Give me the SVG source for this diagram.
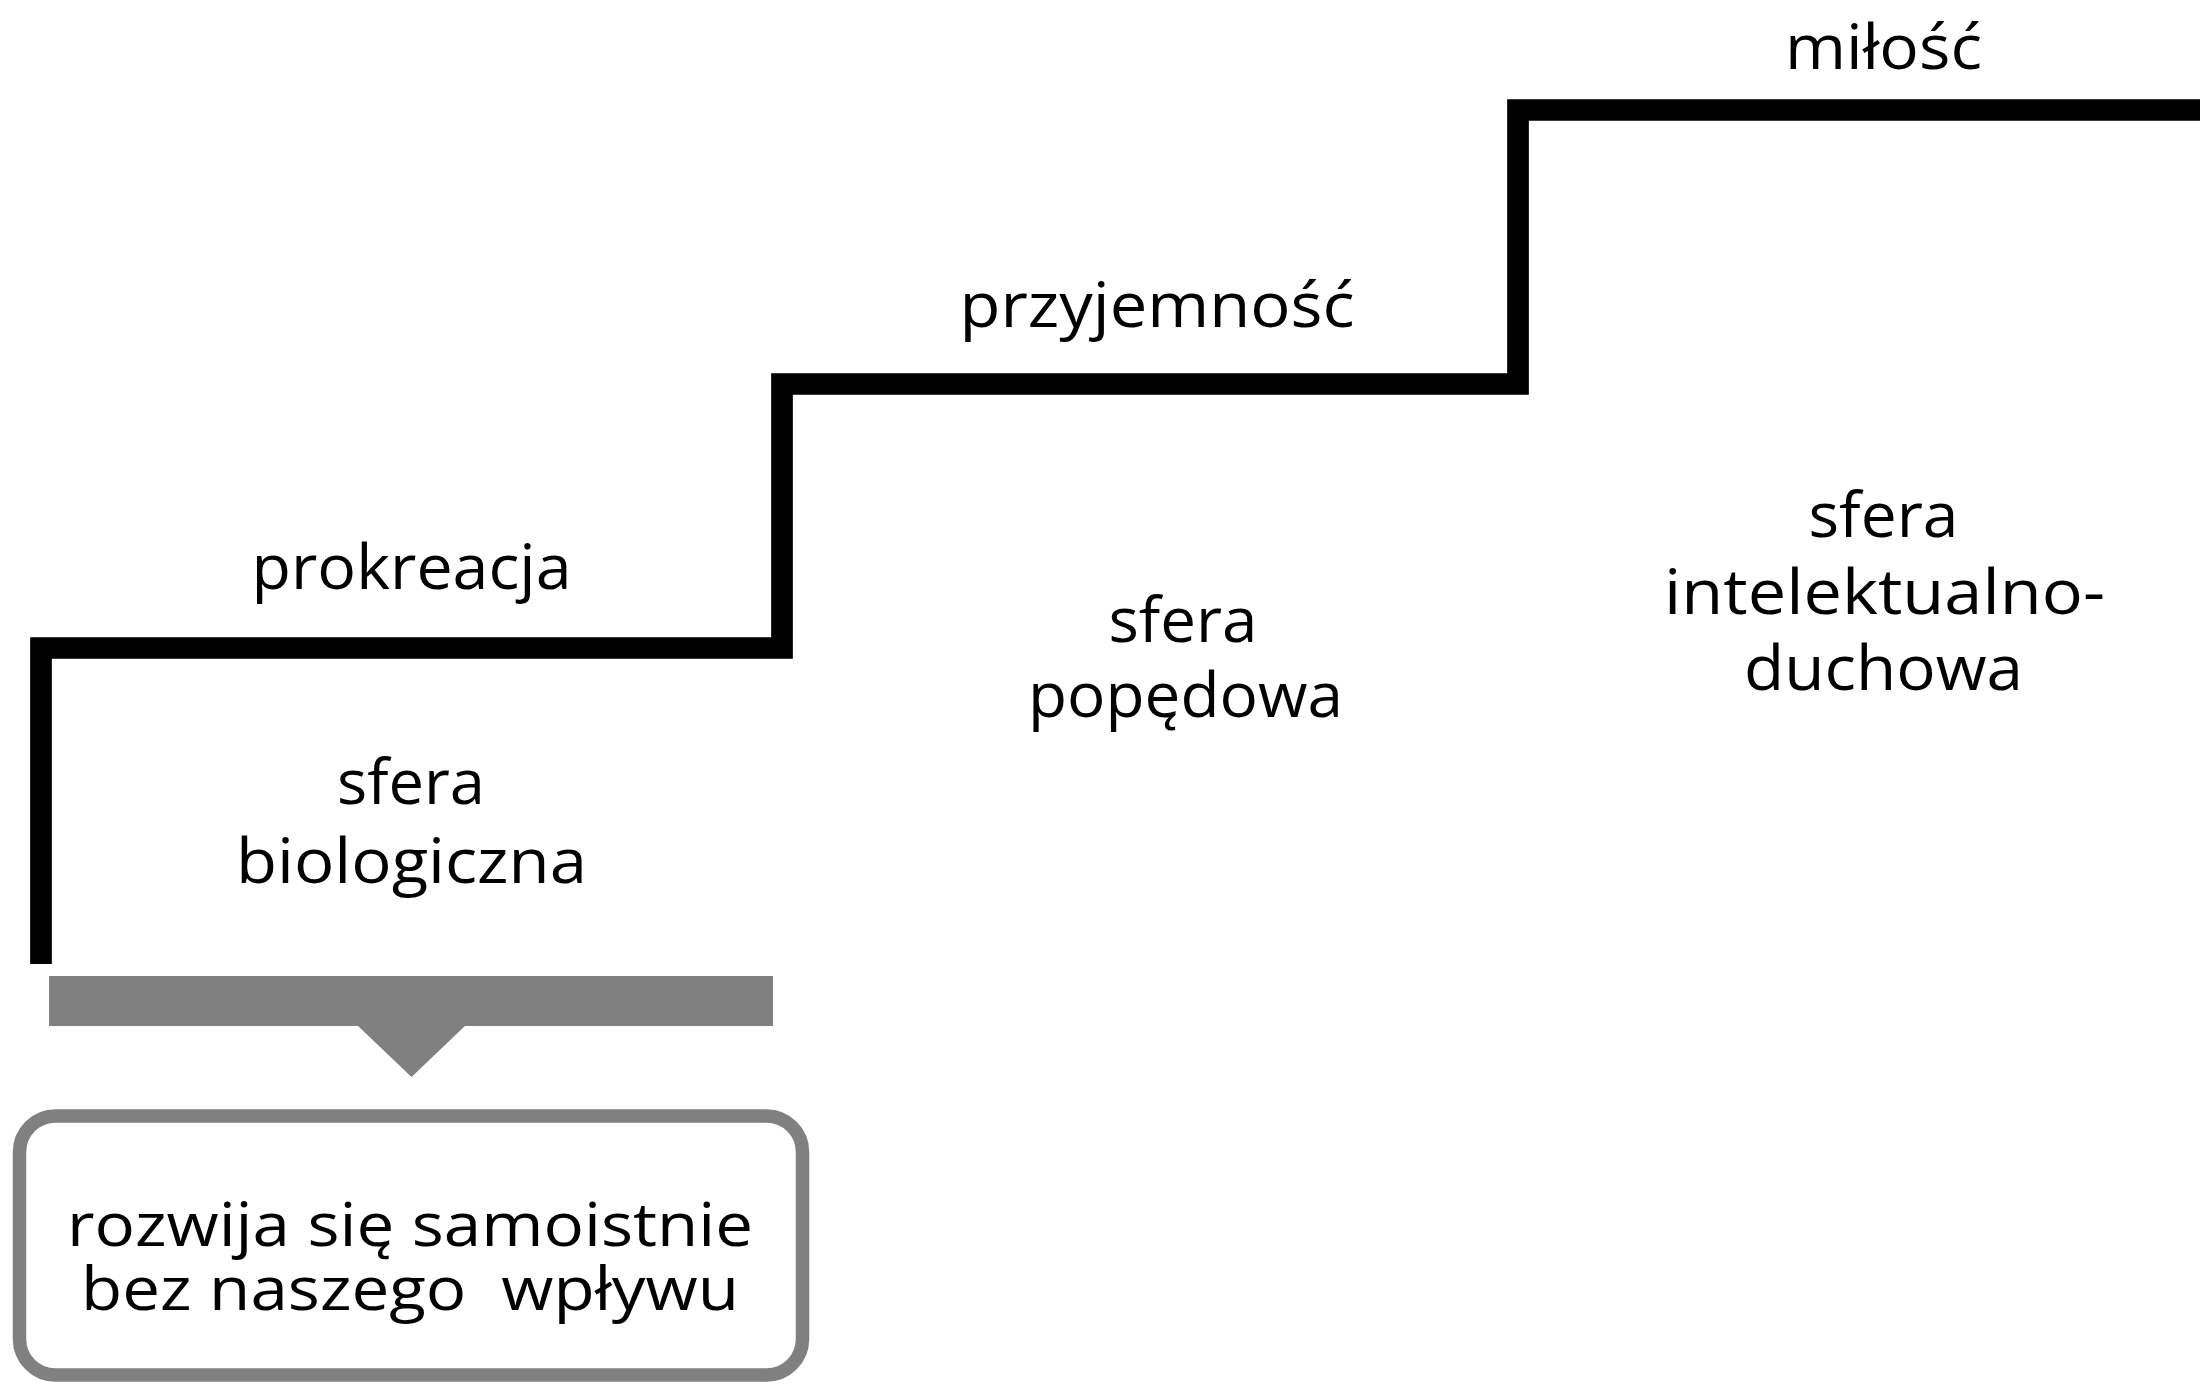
<svg xmlns="http://www.w3.org/2000/svg" width="2200" height="1390" viewBox="0 0 2200 1390">
<style>
  .t { font-family: "Open Sans", "Noto Sans", "Liberation Sans", sans-serif; font-size: 62px; fill: #000; text-anchor: middle; }
  .b { font-size: 60px; white-space: pre; }
  .stair { fill: none; stroke: #000; stroke-width: 21.7; stroke-linejoin: miter; stroke-linecap: butt; }
  .grey { fill: #808080; }
  .box { fill: #fff; stroke: #808080; stroke-width: 13.5; }
</style>
<rect width="2200" height="1390" fill="#fff"/>
<g id="connectors">
  <path class="stair" d="M41,964 V648 H782 V384 H1518 V110 H2200"/>
</g>
<g id="label-prokreacja"><text class="t" x="411.5" y="589" textLength="320" lengthAdjust="spacingAndGlyphs">prokreacja</text></g>
<g id="label-przyjemnosc"><text class="t" x="1157" y="327" textLength="395" lengthAdjust="spacingAndGlyphs">przyjemność</text></g>
<g id="label-milosc"><text class="t" x="1883.5" y="69" textLength="197" lengthAdjust="spacingAndGlyphs">miłość</text></g>
<g id="sfera-biologiczna">
  <text class="t" x="411" y="804" textLength="148" lengthAdjust="spacingAndGlyphs">sfera</text>
  <text class="t" x="411.5" y="883" textLength="351" lengthAdjust="spacingAndGlyphs">biologiczna</text>
</g>
<g id="sfera-popedowa">
  <text class="t" x="1183" y="642" textLength="149" lengthAdjust="spacingAndGlyphs">sfera</text>
  <text class="t" x="1185.5" y="717" textLength="315" lengthAdjust="spacingAndGlyphs">popędowa</text>
</g>
<g id="sfera-intelektualno-duchowa">
  <text class="t" x="1883.5" y="537" textLength="150" lengthAdjust="spacingAndGlyphs">sfera</text>
  <text class="t" x="1884.5" y="614" textLength="441" lengthAdjust="spacingAndGlyphs">intelektualno-</text>
  <text class="t" x="1883.5" y="690" textLength="279" lengthAdjust="spacingAndGlyphs">duchowa</text>
</g>
<g id="pointer">
  <rect class="grey" x="49" y="976" width="724" height="50"/>
  <polygon class="grey" points="357,1025 466,1025 411.5,1077"/>
</g>
<g id="box-rozwija">
  <rect class="box" x="19.5" y="1116" width="783" height="259" rx="36" ry="36"/>
  <text class="t b" x="410" y="1246" textLength="686" lengthAdjust="spacingAndGlyphs">rozwija się samoistnie</text>
  <text class="t b" x="410" y="1310" textLength="658" lengthAdjust="spacingAndGlyphs" xml:space="preserve">bez naszego  wpływu</text>
</g>
</svg>
